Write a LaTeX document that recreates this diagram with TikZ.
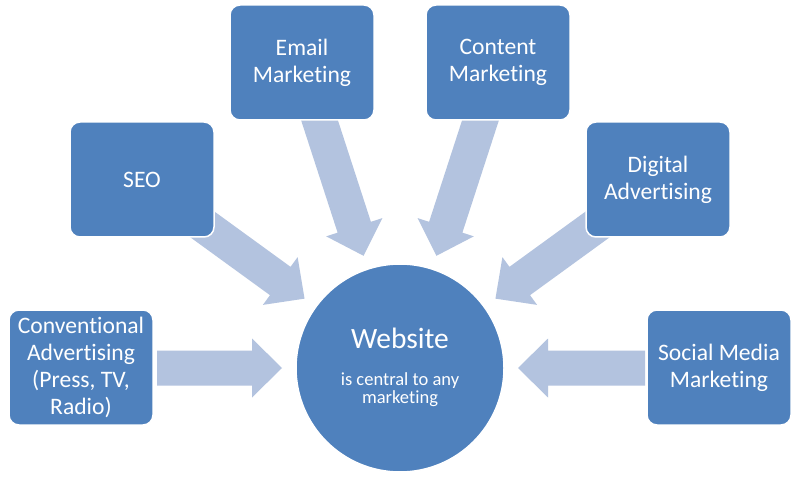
\documentclass[tikz,border=0pt]{standalone}
\usepackage{fontspec}
\setmainfont[Ligatures=NoCommon]{Carlito}
\definecolor{boxblue}{HTML}{4F81BD}
\definecolor{arrowblue}{HTML}{B3C3DF}
\tikzset{
  mbox/.style={fill=boxblue, draw=white, line width=1.5pt, rounded corners=10pt,
    minimum width=144pt, minimum height=115pt, text=white, align=center,
    font=\fontsize{23.6}{27}\selectfont, inner sep=0pt},
  hub/.style={circle, fill=boxblue, draw=white, line width=1.5pt, minimum size=208pt, inner sep=0pt},
  hubtext/.style={text=white, anchor=base, inner sep=0pt},
  blockarrow/.style={fill=arrowblue}
}
\begin{document}
\begin{tikzpicture}[x=1pt,y=1pt]
\useasboundingbox[fill=white] (0,0) rectangle (800,477);
\node[hub] (c) at (400,109) {};
% arrows (drawn behind boxes)
\foreach \a/\R in {180/243, 144/270, 108/270, 72/270, 36/270, 0/245}{
  \begin{scope}[shift={(c.center)}, rotate=\a]
    \fill[blockarrow] (118,0) -- (148,29.5) -- (148,17.5) -- (\R,17.5) -- (\R,-17.5) -- (148,-17.5) -- (148,-29.5) -- cycle;
  \end{scope}
}
\node[mbox] (conv) at (81,109.5) {Conventional\\Advertising\\(Press, TV,\\Radio)};
\node[mbox] (seo) at (142,297.5) {SEO};
\node[mbox] (email) at (302,414.5) {Email\\Marketing};
\node[mbox] (content) at (498,414.5) {Content\\Marketing};
\node[mbox] (digital) at (658,297.5) {Digital\\Advertising};
\node[mbox] (social) at (719,109.5) {Social Media\\Marketing};
\node[hubtext, font=\fontsize{29.5}{34}\selectfont] (web) at (400,129) {Website};
\node[hubtext, font=\fontsize{18.5}{21}\selectfont] (sub1) at (400,92) {is central to any};
\node[hubtext, font=\fontsize{18.5}{21}\selectfont] (sub2) at (400,74) {marketing};
\end{tikzpicture}
\end{document}
